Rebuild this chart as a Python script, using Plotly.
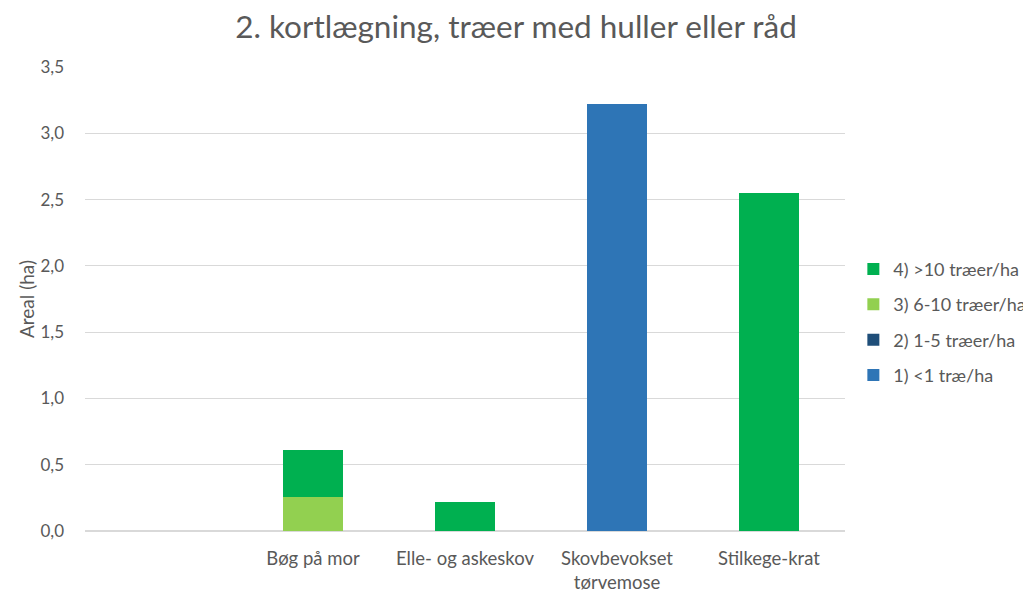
import plotly.graph_objects as go

# Data
kategorier = [" ", "Bøg på mor", "Elle- og askeskov", "Skovbevokset<br>tørvemose", "Stilkege-krat"]
s1 = [0, 0, 0, 3.22, 0]        # 1) <1 træ/ha
s2 = [0, 0, 0, 0, 0]           # 2) 1-5 træer/ha
s3 = [0, 0.26, 0, 0, 0]        # 3) 6-10 træer/ha
s4 = [0, 0.35, 0.22, 0, 2.55]  # 4) >10 træer/ha

serier = [
    ("1) <1 træ/ha", s1, "#2E75B6", 4),
    ("2) 1-5 træer/ha", s2, "#1F4E79", 3),
    ("3) 6-10 træer/ha", s3, "#92D050", 2),
    ("4) >10 træer/ha", s4, "#00B050", 1),
]

fig = go.Figure()
for navn, v, farve, rank in serier:
    fig.add_trace(go.Bar(x=kategorier, y=v, name=navn, legendgroup=navn, legendrank=rank,
                         marker_color=farve, marker_line_width=0))

# siden har 8px body-margin, derfor lidt mindre figur
fig.update_layout(
    barmode='stack',
    bargap=0.6,
    width=1023, height=585,
    paper_bgcolor='white', plot_bgcolor='white',
    separators=', ',
    font={'family': 'Lato, Liberation Sans, sans-serif', 'color': '#595959', 'size': 16},
    margin={'l': 77, 'r': 186, 't': 59, 'b': 62, 'autoexpand': False},
    title={'text': "2. kortlægning, træer med huller eller råd",
           'font': {'size': 31.5, 'color': '#595959'},
           'x': 0.4966, 'xanchor': 'center', 'y': 0.968, 'yanchor': 'middle'},
    legend={'x': 1.011, 'xanchor': 'left', 'y': 0.45, 'yanchor': 'middle',
            'traceorder': 'grouped', 'font': {'size': 18},
            'itemwidth': 30, 'tracegroupgap': 9},
)
fig.update_yaxes(range=[0, 3.5], dtick=0.5, tickformat='.1f', automargin=False,
                 showgrid=True, gridcolor='#D9D9D9', gridwidth=1,
                 zeroline=True, zerolinecolor='#D9D9D9',
                 ticks='', ticklabelstandoff=20, tickfont={'size': 17},
                 title={'text': 'Areal (ha)', 'font': {'size': 19}, 'standoff': 0})
fig.update_xaxes(showline=False, ticks='', tickfont={'size': 18.5},
                 ticklabelstandoff=14, automargin=False)

fig.write_html("out.html")
